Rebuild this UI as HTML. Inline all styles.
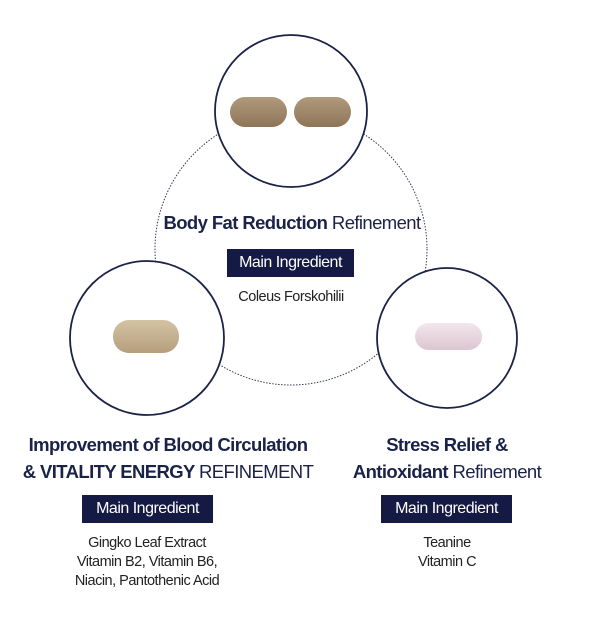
<!DOCTYPE html>
<html><head><style>
body{margin:0;width:600px;height:637px;background:#fff;position:relative;overflow:hidden;font-family:"Liberation Sans",sans-serif;color:#1b1f3a}
.t{position:absolute;text-align:center;white-space:nowrap;transform:translateX(-50%);letter-spacing:-0.6px}
.h{font-size:18.5px;font-weight:bold;color:#1b2248}
.h span{font-weight:normal}
.box{position:absolute;background:#141a44;color:#fff;font-size:16px;text-align:center;letter-spacing:-0.5px}
.s{font-size:14.5px;line-height:19px;color:#222;letter-spacing:-0.5px}
</style></head><body>
<svg width="600" height="637" style="position:absolute;left:0;top:0">
<defs>
<linearGradient id="b" x1="0" y1="0" x2="0" y2="1"><stop offset="0" stop-color="#b09a7c"/><stop offset="1" stop-color="#8f7558"/></linearGradient>
<linearGradient id="c" x1="0" y1="0" x2="0" y2="1"><stop offset="0" stop-color="#d4c3a3"/><stop offset="1" stop-color="#b59e7c"/></linearGradient>
<linearGradient id="p" x1="0" y1="0" x2="0" y2="1"><stop offset="0" stop-color="#f2e6ec"/><stop offset="1" stop-color="#dcc6d1"/></linearGradient>
</defs>
<circle cx="291" cy="249" r="136" fill="none" stroke="#333a5a" stroke-width="1" stroke-dasharray="1.5 1.5"/>
<circle cx="291" cy="111" r="76" fill="#fff" stroke="#1b2248" stroke-width="1.8"/>
<circle cx="147" cy="338" r="77" fill="#fff" stroke="#1b2248" stroke-width="1.8"/>
<circle cx="447" cy="338" r="70" fill="#fff" stroke="#1b2248" stroke-width="1.8"/>
<rect x="230" y="97" width="57" height="30" rx="15" fill="url(#b)"/>
<rect x="294" y="97" width="57" height="30" rx="15" fill="url(#b)"/>
<rect x="113" y="320" width="66" height="33" rx="16" fill="url(#c)"/>
<rect x="415" y="323" width="67" height="27" rx="13.5" fill="url(#p)"/>
</svg>
<div class="t h" style="left:292px;top:212px">Body Fat Reduction <span>Refinement</span></div>
<div class="box" style="left:227px;top:249px;width:127px;height:28px;line-height:28px">Main Ingredient</div>
<div class="t s" style="left:291px;top:288px">Coleus Forskohilii</div>
<div class="t h" style="left:168px;top:431px;line-height:27px">Improvement of Blood Circulation<br>&amp; VITALITY ENERGY <span>REFINEMENT</span></div>
<div class="box" style="left:82px;top:495px;width:131px;height:28px;line-height:28px">Main Ingredient</div>
<div class="t s" style="left:147px;top:534px">Gingko Leaf Extract<br>Vitamin B2, Vitamin B6,<br>Niacin, Pantothenic Acid</div>
<div class="t h" style="left:447px;top:431px;line-height:27px">Stress Relief &amp;<br>Antioxidant <span>Refinement</span></div>
<div class="box" style="left:381px;top:495px;width:131px;height:28px;line-height:28px">Main Ingredient</div>
<div class="t s" style="left:447px;top:534px">Teanine<br>Vitamin C</div>
</body></html>
